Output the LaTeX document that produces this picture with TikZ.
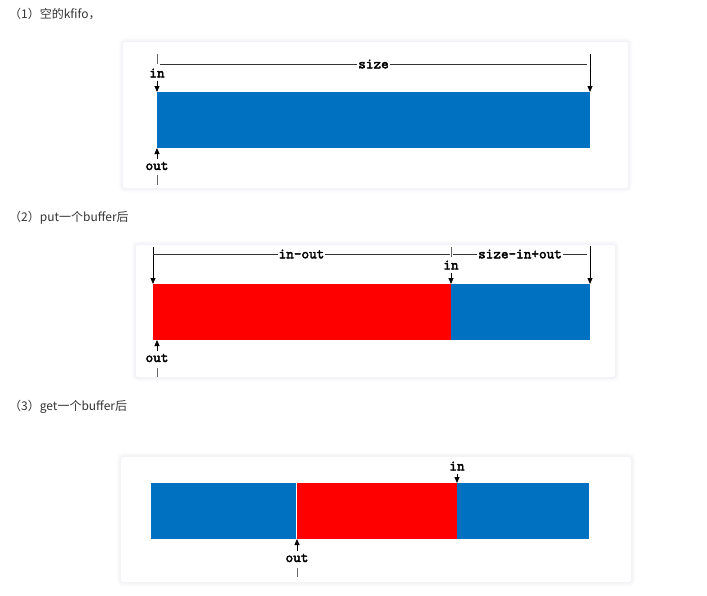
\documentclass[tikz,border=0pt]{standalone}
\usepackage{fontspec}
\newfontfamily\cjk{Noto Sans CJK SC}
\newfontfamily\lblfont{lmmono10-regular.otf}[FakeBold=2.5]
\usetikzlibrary{arrows.meta, positioning}
\definecolor{fifoblue}{HTML}{0070C0}
\definecolor{fifored}{HTML}{FF0000}
\definecolor{capgray}{HTML}{333333}
\definecolor{shadegray}{HTML}{8890A8}

\begin{document}
\begin{tikzpicture}[x=1pt, y=-1pt,
  card/.style={fill=white, rounded corners=2pt,
    preaction={draw=shadegray, line width=9pt, opacity=0.025, yshift=-1pt},
    preaction={draw=shadegray, line width=6pt, opacity=0.035, yshift=-1pt},
    preaction={draw=shadegray, line width=3pt, opacity=0.05, yshift=-1pt}},
  bar/.style={inner sep=0, outer sep=0, minimum height=56pt, anchor=north west},
  lbl/.style={font=\lblfont\fontsize{14.5}{14.5}\selectfont, inner sep=0},
  captxt/.style={font=\cjk\fontsize{12}{14}\selectfont, text=capgray, anchor=west, inner sep=0},
  ptr/.style={-{Triangle[length=6pt,width=5pt]}, line width=0.8pt},
  tick/.style={draw=black!60, line width=1pt},
  dim/.style={draw=black!80, line width=0.8pt},
  dimtxt/.style={lbl, fill=white, inner xsep=1pt}]
 \useasboundingbox (0,0) rectangle (707,595);

 %(1) empty kfifo:
 \node[captxt] (cap1) at (9,14) {（1）空的kfifo，};
 \path[card] (123,42) rectangle (628,188);
 \node[bar, fill=fifoblue, minimum width=433pt] (buf1) at (157,92) {};
 \node[lbl] (in1) at (157,73) {in};
 \node[lbl] (out1) at (157,166) {out};
 \coordinate (s1a) at (157,54);
 \coordinate (s1b) at (157,64);
 \coordinate (s1l) at (160,64);
 \coordinate (s1r) at (587,64);
 \coordinate (s1c) at (590,54);
 \coordinate (t1a) at (157,175);
 \coordinate (t1b) at (157,185);
 \draw[tick] (s1a) -- (s1b);
 \draw[dim] (s1l) -- (s1r) node[dimtxt, midway] (size1) {size};
 \draw[ptr] (s1c) -- (buf1.north east);
 \draw[ptr, shorten <=3pt] (in1.south) -- (buf1.north west);
 \draw[ptr, shorten <=3pt] (out1.north) -- (buf1.south west);
 \draw[tick] (t1a) -- (t1b);

 %(2) after put:
 \node[captxt] (cap2) at (9,218) {（2）put一个buffer后};
 \path[card] (136,245) rectangle (615,377);
 \node[bar, fill=fifored, minimum width=298pt] (used2) at (153,284) {};
 \node[bar, fill=fifoblue, minimum width=139pt, right=0pt of used2] (free2) {};
 \node[lbl] (in2) at (451,265) {in};
 \node[lbl] (out2) at (157,358) {out};
 \coordinate (d2a) at (153,247);
 \coordinate (d2l) at (153,254);
 \coordinate (d2m) at (450,254);
 \coordinate (d2ta) at (451,247);
 \coordinate (d2tb) at (451,257);
 \coordinate (d2n) at (453,254);
 \coordinate (d2r) at (587,254);
 \coordinate (d2c) at (590,246);
 \coordinate (t2a) at (157,368);
 \coordinate (t2b) at (157,377);
 \draw[ptr] (d2a) -- (used2.north west);
 \draw[dim] (d2l) -- (d2m) node[dimtxt, midway] (len2) {in-out};
 \draw[tick] (d2ta) -- (d2tb);
 \draw[dim] (d2n) -- (d2r) node[dimtxt, midway] (avail2) {size-in+out};
 \draw[ptr] (d2c) -- (free2.north east);
 \draw[ptr, shorten <=3pt] (in2.south) -- (used2.north east);
 \draw[ptr, shorten <=3pt] (out2.north) -- (out2.north |- used2.south);
 \draw[tick] (t2a) -- (t2b);

 %(3) after get:
 \node[captxt] (cap3) at (9,407) {（3）get一个buffer后};
 \path[card] (121,457) rectangle (631,582);
 \node[bar, fill=fifoblue, minimum width=145pt] (read3) at (151,483) {};
 \node[bar, fill=fifored, minimum width=160pt] (used3) at (297,483) {};
 \node[bar, fill=fifoblue, minimum width=132pt, right=0pt of used3] (free3) {};
 \node[lbl] (in3) at (457,466) {in};
 \node[lbl] (out3) at (297,558) {out};
 \coordinate (t3a) at (297,568);
 \coordinate (t3b) at (297,577);
 \draw[ptr, shorten <=3pt] (in3.south) -- (used3.north east);
 \draw[ptr, shorten <=3pt] (out3.north) -- (used3.south west);
 \draw[tick] (t3a) -- (t3b);
\end{tikzpicture}
\end{document}
